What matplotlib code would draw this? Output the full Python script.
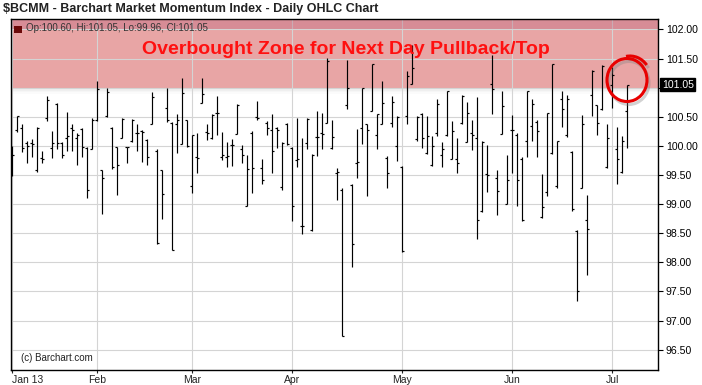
import matplotlib
matplotlib.use("Agg")
import matplotlib.pyplot as plt
from matplotlib.patches import Arc, Rectangle
from matplotlib.transforms import IdentityTransform
import numpy as np

plt.rcParams['font.family'] = ['Liberation Sans', 'DejaVu Sans']

# daily OHLC of $BCMM, one entry per trading day (Jan 8 2013 .. Jul 5 2013)
opens = [99.94, 100.28, 100.31, 100.05, 100.05, 99.58, 99.79, 100.48, 99.97, 100.72,
         100.05, 100.14, 100.31, 100.14, 100.29, 99.97, 99.94, 100.44, 99.58, 100.51,
         100.31, 99.98, 100.14, 99.98, 100.08, 100.22, 100.25, 100.10, 100.37, 99.91,
         99.58, 100.65, 100.40, 100.38, 100.03, 100.45, 99.31, 99.81, 100.74, 100.24,
         100.13, 100.57, 99.81, 99.81, 100.01, 100.21, 99.94, 98.97, 100.22, 100.49,
         99.62, 100.40, 100.28, 100.31, 99.29, 100.37, 99.97, 99.75, 98.62, 100.05,
         98.55, 100.15, 100.22, 100.40, 99.97, 99.54, 99.25, 100.71, 99.32, 99.71,
         100.31, 100.37, 100.60, 100.19, 100.38, 99.79, 100.40, 99.99, 99.64, 100.51,
         101.07, 100.12, 100.55, 99.88, 99.67, 100.22, 99.85, 100.18, 99.78, 99.78,
         100.40, 100.07, 100.22, 100.14, 98.88, 99.51, 101.07, 99.45, 100.21, 99.01,
         100.28, 100.19, 99.78, 100.08, 100.34, 100.41, 98.77, 99.21, 99.88, 99.31,
         100.80, 100.19, 99.90, 98.53, 99.27, 98.73, 100.87, 100.70, 100.64, 99.63,
         101.05, 99.94, 99.56, 100.60]
highs = [99.99, 100.52, 100.38, 100.08, 100.11, 100.32, 99.91, 100.86, 100.26, 100.74,
         100.06, 100.58, 100.38, 100.22, 100.31, 99.98, 100.48, 101.11, 99.59, 101.00,
         100.33, 99.98, 100.48, 99.98, 100.46, 100.37, 100.28, 100.11, 100.93, 99.94,
         99.59, 100.99, 100.41, 100.54, 101.17, 100.45, 100.19, 100.22, 101.17, 100.37,
         100.54, 100.85, 100.24, 100.06, 100.12, 100.72, 100.02, 99.85, 100.26, 100.77,
         99.78, 100.42, 100.55, 100.33, 100.06, 100.40, 99.98, 100.48, 100.13, 100.48,
         99.86, 100.60, 100.57, 101.51, 100.45, 99.62, 99.27, 101.48, 99.34, 100.29,
         101.00, 100.38, 101.41, 100.55, 101.12, 99.82, 100.85, 100.51, 99.65, 101.29,
         101.73, 100.51, 100.57, 100.51, 100.17, 100.81, 100.06, 100.95, 100.42, 100.13,
         100.88, 100.76, 100.45, 100.84, 100.08, 100.01, 101.57, 99.58, 100.94, 99.85,
         100.53, 100.22, 99.81, 100.95, 100.80, 100.45, 99.51, 100.57, 101.41, 100.09,
         100.95, 100.88, 99.91, 98.55, 100.53, 99.16, 101.31, 100.71, 101.39, 100.38,
         101.36, 100.33, 100.17, 101.05]
lows = [99.48, 100.24, 99.89, 99.71, 99.81, 99.55, 99.71, 100.42, 99.79, 99.94,
        99.79, 99.91, 99.91, 99.68, 99.81, 99.11, 99.94, 100.42, 98.83, 100.50,
        99.61, 99.16, 100.14, 99.70, 100.06, 99.92, 99.73, 99.67, 100.37, 98.32,
        98.75, 100.41, 98.21, 99.88, 100.03, 99.98, 99.19, 99.54, 100.74, 100.10,
        100.12, 100.18, 99.75, 99.64, 99.65, 100.21, 99.71, 98.96, 99.19, 100.44,
        99.34, 100.19, 99.54, 99.97, 99.24, 100.02, 98.71, 99.64, 98.48, 99.94,
        98.53, 99.82, 99.95, 100.40, 99.95, 99.07, 96.73, 100.64, 97.92, 99.45,
        100.03, 99.14, 100.60, 99.95, 100.38, 99.27, 100.32, 99.74, 98.18, 100.37,
        101.07, 100.09, 99.97, 99.86, 99.66, 100.17, 99.64, 100.17, 99.78, 99.54,
        100.37, 100.07, 99.93, 98.40, 98.87, 99.21, 100.55, 98.81, 100.21, 99.00,
        99.54, 98.96, 98.71, 99.81, 100.08, 99.81, 98.76, 99.14, 99.86, 99.27,
        100.32, 100.15, 98.89, 97.33, 99.27, 97.78, 100.51, 100.19, 100.62, 99.62,
        100.65, 99.34, 99.54, 99.96]
closes = [99.85, 100.51, 99.97, 99.99, 100.03, 100.31, 99.78, 100.78, 100.05, 100.05,
          99.85, 100.17, 100.28, 100.19, 99.98, 99.25, 100.45, 100.97, 99.45, 100.93,
          99.63, 99.68, 100.47, 99.98, 100.44, 100.22, 100.24, 99.81, 100.84, 98.33,
          99.18, 100.44, 98.22, 100.45, 100.91, 99.99, 100.18, 99.79, 100.89, 100.22,
          100.53, 100.56, 99.85, 99.82, 100.01, 100.71, 99.85, 99.61, 99.62, 100.48,
          99.42, 100.31, 99.91, 100.28, 100.05, 100.03, 98.96, 99.77, 98.63, 100.47,
          99.85, 100.15, 100.21, 101.45, 100.15, 99.56, 96.74, 100.99, 98.32, 99.72,
          100.99, 100.28, 101.40, 100.54, 100.74, 99.54, 100.76, 100.50, 98.19, 101.20,
          101.34, 100.50, 100.14, 100.17, 99.99, 100.72, 99.94, 100.94, 100.25, 99.70,
          100.85, 100.57, 100.19, 98.73, 100.07, 99.50, 100.97, 99.23, 100.68, 99.42,
          100.27, 99.41, 98.72, 100.94, 100.72, 100.25, 98.95, 100.56, 101.40, 100.08,
          100.64, 100.81, 98.91, 97.51, 100.38, 98.58, 101.29, 100.40, 101.37, 100.14,
          101.21, 99.78, 100.09, 101.05]

month_labels = ['Jan 13', 'Feb', 'Mar', 'Apr', 'May', 'Jun', 'Jul']
month_starts = [0, 17, 36, 56, 78, 100, 120]   # bar index of first trading day
zone_low = 101.0
last_price = 101.05

x = np.arange(len(opens))

fig = plt.figure(figsize=(7.02, 3.85), dpi=100, facecolor='white')
ax = fig.add_axes([11/702, 1 - 370/385, 647/702, 351/385])
ax.set_xlim(-0.2, 129.2)
ax.set_ylim(96.15, 102.18)

# grid
ax.set_yticks(np.arange(96.5, 102.01, 0.5))
ax.set_xticks(month_starts)
ax.grid(True, color='#d4d4d4', lw=0.8)
ax.set_axisbelow(True)

# overbought zone + legend strip
ax.axhspan(zone_low, 102.18, color='#d96a6a', alpha=0.6, lw=0, zorder=0.5)
ax.axhspan(102.0, 102.18, color='#b8607a', alpha=0.35, lw=0, zorder=0.6)
for k, a in enumerate([0.18, 0.12, 0.07, 0.03]):
    ax.axhspan(zone_low - 0.025 * (k + 1), zone_low - 0.025 * k, color='gray', alpha=a, lw=0, zorder=0.5)

# OHLC bars
ax.vlines(x, lows, highs, color='black', lw=0.85, zorder=3)
ax.hlines(opens, x - 0.45, x, color='black', lw=0.85, zorder=3)
ax.hlines(closes, x, x + 0.45, color='black', lw=0.85, zorder=3)

# axes styling
for s in ax.spines.values():
    s.set_color('black')
    s.set_linewidth(1.0)
ax.yaxis.tick_right()
ylabels = ['' if abs(v - 101.0) < 1e-6 else f'{v:.2f}' for v in ax.get_yticks()]
ax.set_yticklabels(ylabels)
ax.tick_params(axis='y', direction='out', length=3.6, width=0.8, pad=2, labelsize=7.6, colors='black')
ax.set_xticklabels(month_labels)
ax.tick_params(axis='x', direction='out', length=2.5, width=0.8, pad=1, labelsize=7.5, colors='#222222')
ax.get_xticklabels()[0].set_horizontalalignment('left')
ax.get_xticklabels()[0].set_x(-2.2)

# last price box
ax.text(1.006, last_price, f'{last_price:.2f}', transform=ax.get_yaxis_transform(),
        ha='left', va='center', fontsize=7.6, color='white',
        bbox=dict(boxstyle='square,pad=0.15', fc='black', ec='black'))

# titles and labels
fig.text(3/702, 1 - 9/385, r'\$BCMM - Barchart Market Momentum Index - Daily OHLC Chart',
         fontsize=9, fontweight='bold', color='#222222', va='center', ha='left')
ax.add_patch(Rectangle((14, 385 - 33), 8, 7, transform=IdentityTransform(),
                       fc='#6b0a0a', ec='none', zorder=5))
fig.text(26/702, 1 - 28/385, 'Op:100.60, Hi:101.05, Lo:99.96, Cl:101.05',
         fontsize=7, color='#333333', va='center', ha='left')
ax.text(0.2025, 101.66, 'Overbought Zone for Next Day Pullback/Top', transform=ax.get_yaxis_transform(),
        fontsize=14, fontweight='bold', color='#ff1010', ha='left', va='center', zorder=4)
ax.text(0.016, 96.35, '(c) Barchart.com', transform=ax.get_yaxis_transform(),
        fontsize=7, color='#222222', ha='left', va='center')

# hand drawn circle around the last bar
cx, cy = 627, 385 - 80
for dx, dy, col, al in [(2, -3, 'gray', 0.35), (0, 0, '#e80000', 1.0)]:
    ax.add_patch(Arc((cx + dx, cy + dy), 40, 43, theta1=0, theta2=360, transform=IdentityTransform(),
                     color=col, alpha=al, lw=2.2, zorder=6))
    ax.add_patch(Arc((cx + 3 + dx, cy + 1 + dy), 42, 46, theta1=40, theta2=100, transform=IdentityTransform(),
                     color=col, alpha=al, lw=2.2, zorder=6))

fig.savefig('out.png', dpi=100, facecolor='white')
